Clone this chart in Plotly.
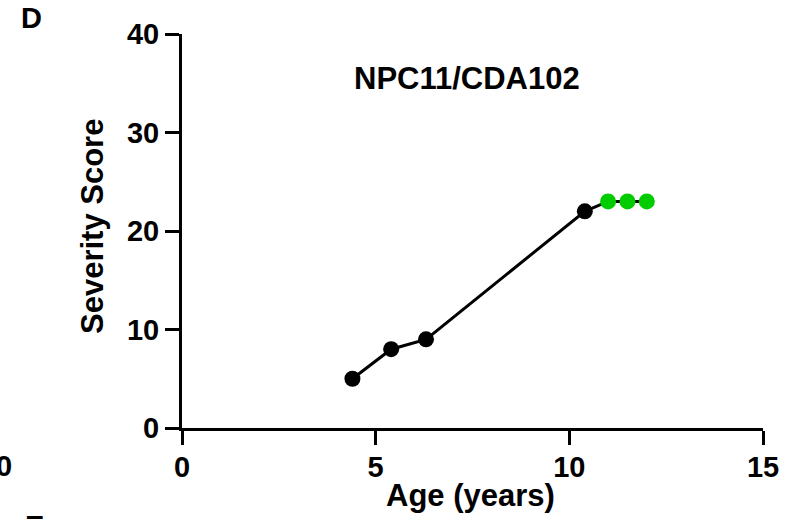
import plotly.graph_objects as go

# Data
ages = [4.4, 5.4, 6.3, 10.4, 11.0, 11.5, 12.0]
scores = [5, 8, 9, 22, 23, 23, 23]
point_colors = ["#000000", "#000000", "#000000", "#000000", "#00CC00", "#00CC00", "#00CC00"]
x_ticks = [0, 5, 10, 15]
y_ticks = [0, 10, 20, 30, 40]
title_text = "NPC11/CDA102"
x_title = "Age (years)"
y_title = "Severity Score"
panel_label = "D"

W, H = 793, 519
L, R, T, B = 182, 30, 34, 91
pw, ph = W - L - R, H - T - B

def px(xp):
    return (xp - L) / pw

def py(yp):
    return (H - B - yp) / ph

FONT = "Liberation Sans, Arial, sans-serif"
FS_TICK = 29
FS_TITLE = 31

fig = go.Figure()
fig.add_trace(go.Scatter(
    x=ages, y=scores, mode="lines+markers",
    line=dict(color="black", width=3),
    marker=dict(color=point_colors, size=16, line=dict(width=0)),
    showlegend=False, cliponaxis=False,
))

axis_common = dict(
    showline=True, linecolor="black", linewidth=3,
    ticks="outside", ticklen=14, tickwidth=3, tickcolor="black",
    showgrid=False, zeroline=False,
    tickfont=dict(family=FONT, size=FS_TICK, color="black", weight="bold"),
)

fig.update_xaxes(range=[0, 15], tickvals=x_ticks, ticktext=[str(v) for v in x_ticks],
                 ticklabelstandoff=-3, **axis_common)
fig.update_yaxes(range=[0, 40], tickvals=y_ticks, ticktext=[str(v) for v in y_ticks],
                 ticklabelstandoff=0, **axis_common)

title_font = dict(family=FONT, size=FS_TITLE, color="black", weight="bold")
tick_font = dict(family=FONT, size=FS_TICK, color="black", weight="bold")
annotations = [
    dict(text=title_text, x=px(467), y=py(78), xanchor="center", yanchor="middle", font=title_font),
    dict(text=x_title, x=px(470), y=py(495), xanchor="center", yanchor="middle", font=title_font),
    dict(text=y_title, x=px(92), y=py(227), xanchor="center", yanchor="middle", textangle=-90, font=title_font),
    dict(text=panel_label, x=px(31), y=py(18), xanchor="center", yanchor="middle", font=tick_font),
    dict(text="0", x=px(4), y=py(466), xanchor="center", yanchor="middle", font=tick_font),
    dict(text="E", x=px(34), y=py(513), xanchor="center", yanchor="top", yshift=5, font=tick_font),
]
for a in annotations:
    a.update(xref="paper", yref="paper", showarrow=False)

fig.update_layout(
    width=W, height=H,
    margin=dict(l=L, r=R, t=T, b=B),
    paper_bgcolor="white", plot_bgcolor="white",
    annotations=annotations,
)

fig.write_html("out.html", config={"displayModeBar": False},
               post_script="document.body.style.margin='0';")
